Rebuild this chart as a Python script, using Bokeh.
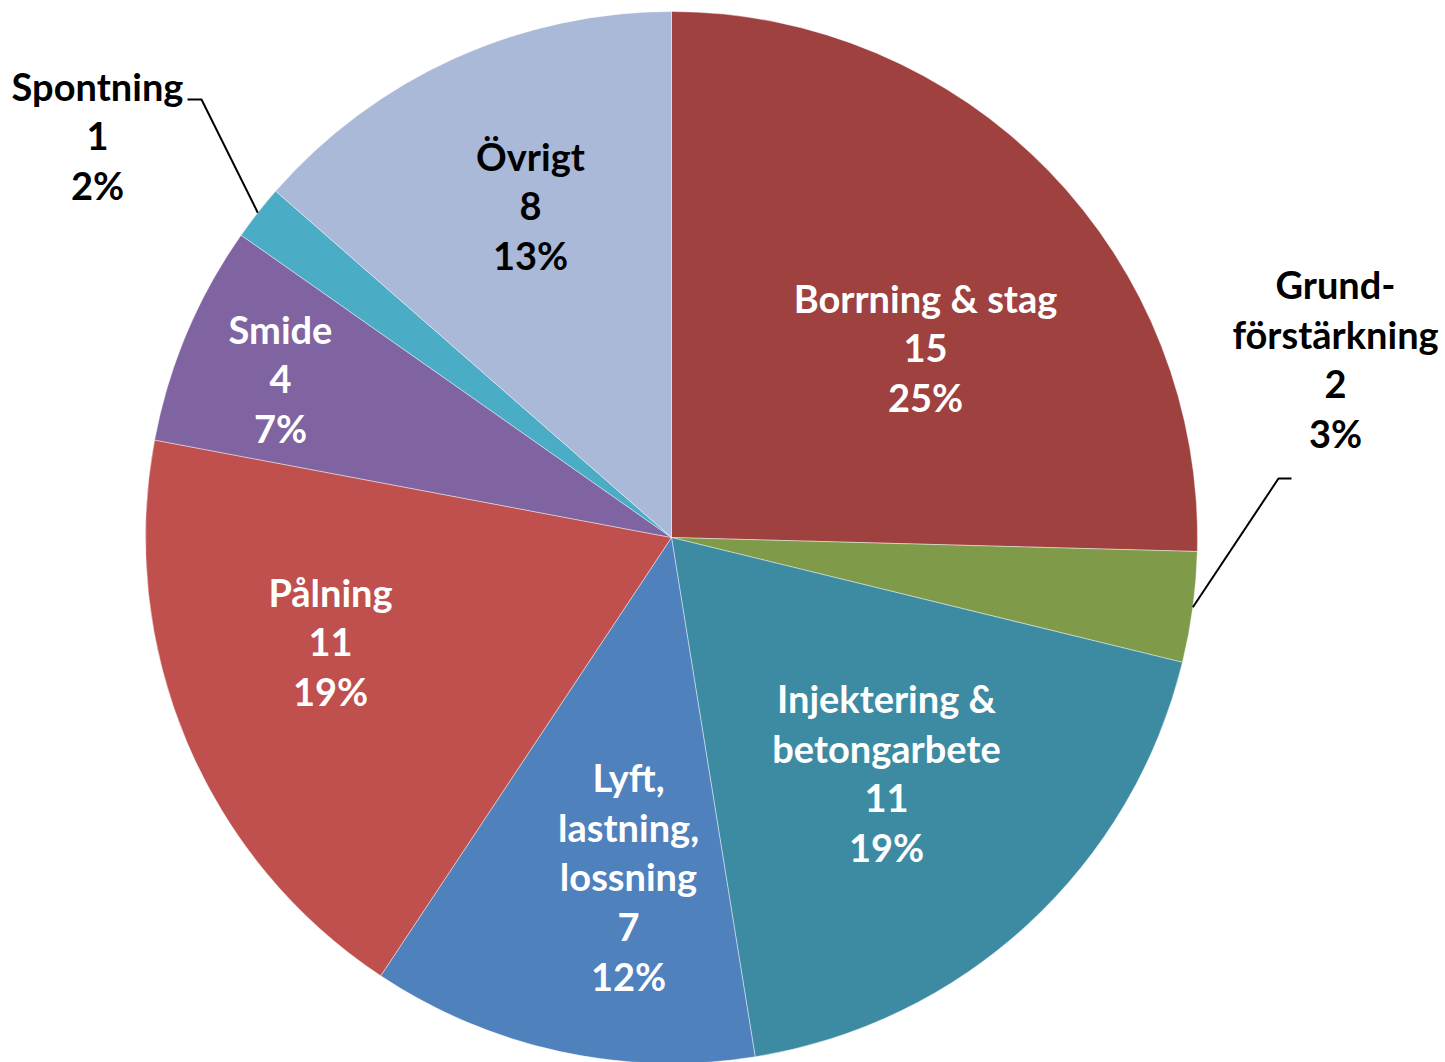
import math
from bokeh.plotting import figure
from bokeh.models import Range1d, ColumnDataSource
from bokeh.core.properties import value
from bokeh.embed import file_html
from bokeh.resources import INLINE

# ---- data ----
categories = ["Borrning & stag", "Grundförstärkning", "Injektering & betongarbete",
              "Lyft, lastning, lossning", "Pålning", "Smide", "Spontning", "Övrigt"]
display_names = ["Borrning & stag", "Grund-\nförstärkning", "Injektering &\nbetongarbete",
                 "Lyft,\nlastning,\nlossning", "Pålning", "Smide", "Spontning", "Övrigt"]
counts = [15, 2, 11, 7, 11, 4, 1, 8]
percent_labels = ["25%", "3%", "19%", "12%", "19%", "7%", "2%", "13%"]

# ---- style / layout ----
colors = ["#9E413F", "#7F9B4A", "#3D8BA2", "#4F81BD", "#C0504D", "#8064A2", "#4BACC6", "#AAB9D7"]
text_colors = ["white", "black", "white", "white", "white", "white", "black", "black"]
# label block centres in screen pixels
label_pos = [(925, 347), (1335, 358), (886, 772), (628, 876), (330, 641),
             (280, 378), (97, 135), (530, 205)]
# leader line elbows (screen px) for outside labels
leaders = {1: [(1278, 478), (1291, 478)], 6: [(201, 99), (187, 99)]}

W, H = 1445, 1062
CX_S, CY_S, R = 671, 537, 526


def sx(x):
    return x


def sy(y):
    return H - y


p = figure(width=W, height=H, output_backend="svg", toolbar_location=None,
           x_range=Range1d(0, W), y_range=Range1d(0, H), min_border=0)
p.axis.visible = False
p.grid.visible = False
p.outline_line_color = None
p.background_fill_color = "white"
p.border_fill_color = "white"

total = sum(counts)
cum = 0
starts, ends, mids = [], [], []
for c in counts:
    a0 = 90 - 360 * cum / total
    cum += c
    a1 = 90 - 360 * cum / total
    starts.append(math.radians(a1))
    ends.append(math.radians(a0))
    mids.append(math.radians((a0 + a1) / 2))

src = ColumnDataSource(dict(start=starts, end=ends, color=colors, cat=categories, count=counts))
p.wedge(x=sx(CX_S), y=sy(CY_S), radius=R, start_angle="start", end_angle="end",
        fill_color="color", line_color="white", line_width=0.6, line_alpha=0.7, source=src)

# leader lines
for i, pts in leaders.items():
    ex = sx(CX_S) + R * math.cos(mids[i])
    ey = sy(CY_S) + R * math.sin(mids[i])
    xs = [ex] + [sx(x) for x, _ in pts]
    ys = [ey] + [sy(y) for _, y in pts]
    p.line(xs, ys, line_color="black", line_width=2)

texts = [f"{n}\n{c}\n{pc}" for n, c, pc in zip(display_names, counts, percent_labels)]
lsrc = ColumnDataSource(dict(x=[sx(x) for x, _ in label_pos], y=[sy(y) for _, y in label_pos],
                             text=texts, color=text_colors))
p.text(x="x", y="y", text="text", source=lsrc, text_color="color",
       text_font=value("Lato"), text_font_style="bold", text_font_size="38px",
       text_align="center", text_baseline="middle", text_line_height=1.08)

open("out.html", "w").write(file_html(p, INLINE))
